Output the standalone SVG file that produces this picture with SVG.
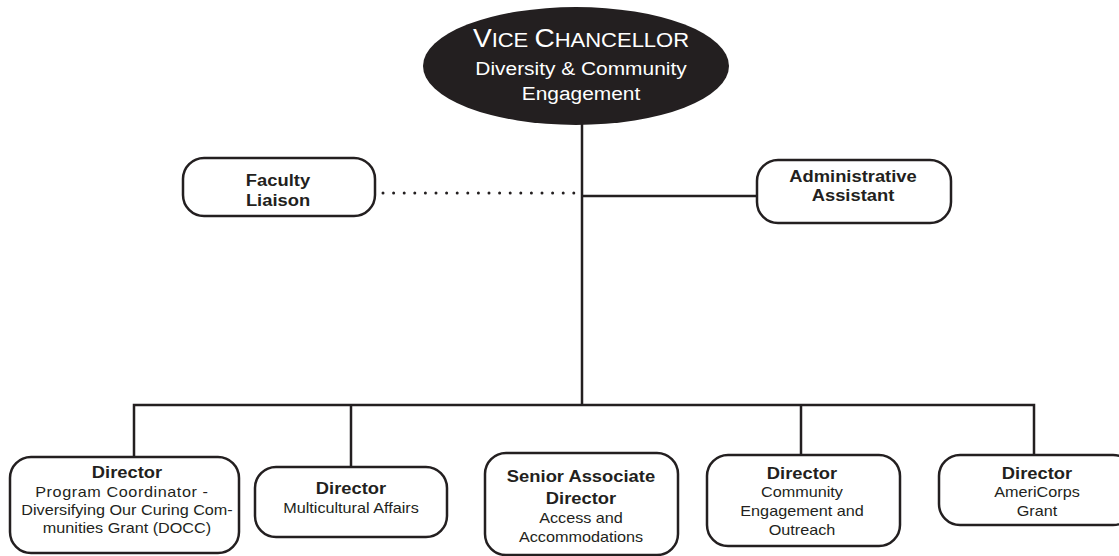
<svg xmlns="http://www.w3.org/2000/svg" width="1119" height="556" viewBox="0 0 1119 556">
<style>
.box{fill:#fff;stroke:#231f20;stroke-width:2.5}
.ln{fill:none;stroke:#231f20;stroke-width:2.5}
.dot{fill:none;stroke:#231f20;stroke-width:3;stroke-linecap:round;stroke-dasharray:0 10.6}
text{font-family:"Liberation Sans",Arial,sans-serif;text-anchor:middle;fill:#231f20}
.t{font-size:17px;font-weight:bold}
.d{font-size:15px}
.w{fill:#fff;font-size:19px}
</style>
<rect width="1119" height="556" fill="#fff"/>
<g id="connectors">
<line class="ln" x1="582" y1="120" x2="582" y2="405"/>
<polyline class="ln" points="134,457 134,405 1034,405 1034,455"/>
<line class="ln" x1="351" y1="405" x2="351" y2="467"/>
<line class="ln" x1="801" y1="405" x2="801" y2="455"/>
<line class="ln" x1="582" y1="196" x2="757" y2="196"/>
<line class="dot" x1="383" y1="193" x2="577" y2="193"/>
</g>
<g id="vc">
<ellipse cx="576" cy="66" rx="153" ry="59" fill="#231f20"/>
<g transform="translate(581,0) scale(1.1,1)">
<text class="w" y="47"><tspan font-size="25.5">V</tspan><tspan font-size="20">ICE </tspan><tspan font-size="25.5">C</tspan><tspan font-size="20">HANCELLOR</tspan></text>
<text class="w" y="75">Diversity &amp; Community</text>
<text class="w" y="100">Engagement</text>
</g>
</g>
<g id="faculty">
<rect class="box" x="183" y="158" width="192" height="58" rx="21"/>
<g transform="translate(278,0) scale(1.08,1)">
<text class="t" y="186">Faculty</text>
<text class="t" y="206">Liaison</text>
</g>
</g>
<g id="admin">
<rect class="box" x="757" y="160" width="194" height="63" rx="21"/>
<g transform="translate(853,0) scale(1.08,1)">
<text class="t" y="182">Administrative</text>
<text class="t" y="201">Assistant</text>
</g>
</g>
<g id="docc">
<rect class="box" x="10" y="457" width="229" height="96" rx="21"/>
<g transform="translate(127,0) scale(1.08,1)">
<text class="t" y="478">Director</text>
<text class="d" y="497" x="-5" textLength="160" lengthAdjust="spacing">Program Coordinator -</text>
<text class="d" y="515">Diversifying Our Curing Com-</text>
<text class="d" y="533">munities Grant (DOCC)</text>
</g>
</g>
<g id="multicultural">
<rect class="box" x="255" y="467" width="192" height="70" rx="21"/>
<g transform="translate(351,0) scale(1.08,1)">
<text class="t" y="494">Director</text>
<text class="d" y="513">Multicultural Affairs</text>
</g>
</g>
<g id="access">
<rect class="box" x="485" y="453" width="193" height="102" rx="21"/>
<g transform="translate(581,0) scale(1.08,1)">
<text class="t" y="482">Senior Associate</text>
<text class="t" y="504">Director</text>
<text class="d" y="523">Access and</text>
<text class="d" y="542">Accommodations</text>
</g>
</g>
<g id="community">
<rect class="box" x="707" y="455" width="193" height="91" rx="21"/>
<g transform="translate(802,0) scale(1.08,1)">
<text class="t" y="479">Director</text>
<text class="d" y="497">Community</text>
<text class="d" y="516">Engagement and</text>
<text class="d" y="535">Outreach</text>
</g>
</g>
<g id="americorps">
<rect class="box" x="939" y="455" width="195" height="70" rx="21"/>
<g transform="translate(1037,0) scale(1.08,1)">
<text class="t" y="479">Director</text>
<text class="d" y="497">AmeriCorps</text>
<text class="d" y="516">Grant</text>
</g>
</g>
</svg>
